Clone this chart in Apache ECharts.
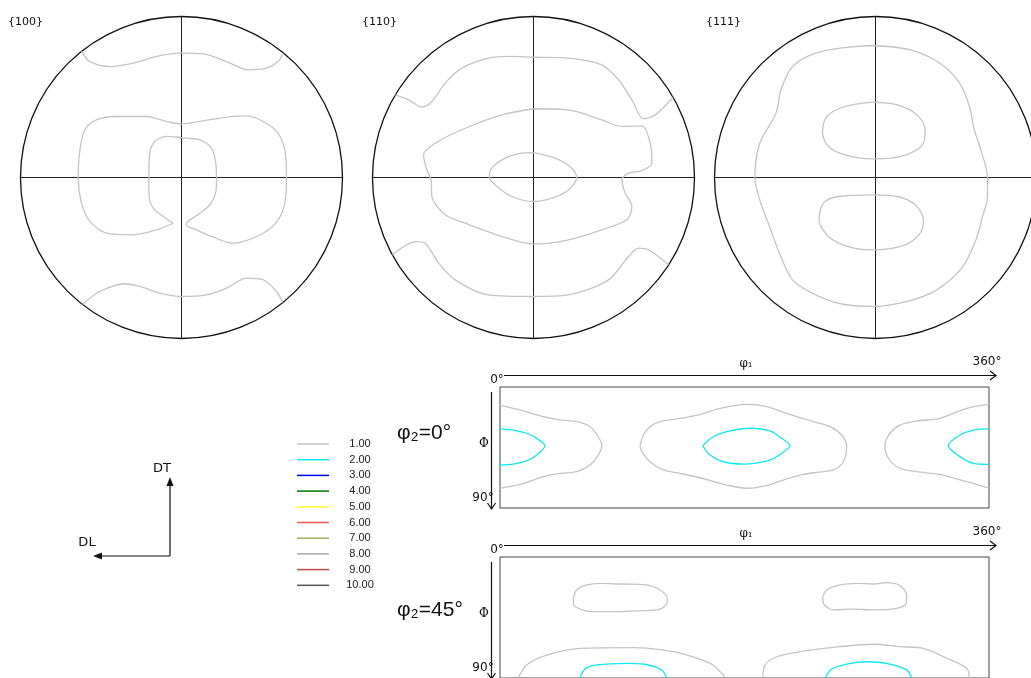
<!DOCTYPE html>
<html><head><meta charset="utf-8">
<script src="https://cdn.jsdelivr.net/npm/echarts@6/dist/echarts.min.js"></script>
<style>html,body{margin:0;padding:0;background:#fff}#c{width:1031px;height:678px}</style>
</head><body><div id="c"></div>
<script>
// ---------------- data ----------------
const poleFigureLabels = ['{100}', '{110}', '{111}'];
const levelLabels = ['1.00','2.00','3.00','4.00','5.00','6.00','7.00','8.00','9.00','10.00'];
const levelColors = ['#c4c4c4','#10e8f0','#0000e6','#007800','#ffff20','#f05858','#a8a858','#a8a8a8','#c04c4c','#555555'];
const odfSectionLabels = ['φ₂=0°', 'φ₂=45°'];
const phi1AxisName = 'φ₁';
const PhiAxisName = 'Φ';
const phi1TickLabels = ['0°', '360°'];
const PhiTickLabels = ['0°', '90°'];
const sampleAxisLabels = ['DT', 'DL'];

// pole figure contours: [x, y] in units of the projection-circle radius
const pf100_top = [[-0.621,0.783],[-0.569,0.720],[-0.445,0.689],[-0.300,0.710],[-0.155,0.752],[0,0.772],[0.135,0.768],[0.280,0.720],[0.414,0.669],[0.528,0.679],[0.600,0.720],[0.631,0.772]];
const pf100_bottom = [[-0.615,-0.788],[-0.507,-0.708],[-0.352,-0.660],[-0.259,-0.677],[-0.135,-0.718],[0,-0.739],[0.155,-0.729],[0.280,-0.687],[0.404,-0.625],[0.507,-0.635],[0.590,-0.708],[0.627,-0.776]];
const pf100_centre = [[-0.052,-0.284],[-0.155,-0.325],[-0.300,-0.356],[-0.466,-0.346],[-0.569,-0.273],[-0.621,-0.159],[-0.642,0.006],[-0.631,0.172],[-0.600,0.296],[-0.528,0.358],[-0.404,0.379],[-0.217,0.379],[-0.093,0.348],[0,0.333],[0.114,0.348],[0.280,0.375],[0.404,0.383],[0.507,0.348],[0.600,0.275],[0.648,0.130],[0.652,0],[0.642,-0.159],[0.600,-0.263],[0.507,-0.346],[0.321,-0.408],[0.197,-0.371],[0.093,-0.325],[0.027,-0.294],[0.041,-0.273],[0.114,-0.222],[0.166,-0.180],[0.201,-0.128],[0.217,-0.056],[0.217,0],[0.213,0.089],[0.186,0.182],[0.114,0.234],[0.031,0.244],[0,0.248],[-0.093,0.255],[-0.166,0.224],[-0.197,0.151],[-0.203,0],[-0.201,-0.118],[-0.176,-0.190],[-0.114,-0.242],[-0.052,-0.284]];

const pf110_top = [[-0.858,0.513],[-0.776,0.482],[-0.694,0.437],[-0.631,0.472],[-0.549,0.586],[-0.445,0.679],[-0.280,0.741],[-0.155,0.752],[0,0.747],[0.217,0.741],[0.424,0.700],[0.528,0.607],[0.611,0.482],[0.683,0.364],[0.756,0.389],[0.866,0.497]];
const pf110_bottom = [[-0.876,-0.482],[-0.735,-0.398],[-0.673,-0.408],[-0.590,-0.532],[-0.487,-0.636],[-0.280,-0.729],[0,-0.739],[0.217,-0.729],[0.466,-0.636],[0.590,-0.491],[0.652,-0.439],[0.714,-0.449],[0.839,-0.542]];
const pf110_middle = [[0,0.427],[-0.197,0.389],[-0.424,0.306],[-0.611,0.213],[-0.683,0.141],[-0.663,0.048],[-0.636,-0.014],[-0.631,-0.118],[-0.549,-0.232],[-0.424,-0.284],[-0.197,-0.366],[0,-0.414],[0.217,-0.387],[0.424,-0.325],[0.580,-0.263],[0.611,-0.180],[0.569,-0.097],[0.549,-0.014],[0.590,0.027],[0.673,0.043],[0.735,0.089],[0.725,0.213],[0.673,0.321],[0.549,0.317],[0.424,0.358],[0.217,0.420],[0,0.427]];
const pf110_core = [[0,0.155],[0.135,0.120],[0.238,0.058],[0.269,0],[0.217,-0.077],[0.114,-0.128],[0,-0.149],[-0.135,-0.118],[-0.238,-0.046],[-0.275,0],[-0.259,0.058],[-0.176,0.120],[-0.072,0.151],[0,0.155]];

const pf111_outer = [[0,0.820],[0.238,0.793],[0.424,0.710],[0.549,0.586],[0.611,0.441],[0.642,0.296],[0.683,0.172],[0.725,0],[0.725,-0.118],[0.694,-0.242],[0.652,-0.387],[0.569,-0.553],[0.404,-0.698],[0.217,-0.770],[0,-0.801],[-0.217,-0.781],[-0.383,-0.718],[-0.507,-0.636],[-0.590,-0.470],[-0.652,-0.304],[-0.714,-0.139],[-0.745,0],[-0.714,0.213],[-0.611,0.400],[-0.580,0.545],[-0.507,0.689],[-0.362,0.772],[-0.176,0.807],[0,0.820]];
const pf111_upper = [[0,0.468],[0.155,0.451],[0.280,0.389],[0.331,0.296],[0.321,0.213],[0.238,0.151],[0.114,0.120],[0,0.116],[-0.176,0.141],[-0.280,0.193],[-0.317,0.275],[-0.290,0.379],[-0.176,0.441],[0,0.468]];
const pf111_lower = [[0,-0.108],[0.155,-0.118],[0.269,-0.170],[0.321,-0.263],[0.300,-0.346],[0.207,-0.418],[0,-0.449],[-0.155,-0.429],[-0.280,-0.366],[-0.339,-0.263],[-0.311,-0.159],[-0.217,-0.118],[0,-0.108]];

// ODF sections: [phi1 (deg), Phi (deg)]
const odf0_left1 = [[0,13.4],[14.7,17.1],[31.9,22.1],[44.2,24.5],[56.5,25.8],[66.3,29.5],[72.4,37],[74.9,43.7],[72.4,50.6],[66.3,58],[56.5,63],[44.2,64.2],[31.9,66.7],[17.7,71.6],[0,75.3]];
const odf0_left2 = [[0,31.2],[9.8,32],[19.6,34.4],[27,38.2],[33.1,43.7],[27,50.6],[19.6,55],[9.8,57.3],[0,58]];
const odf0_mid1 = [[103.1,43.7],[105.5,35.7],[110.4,29.5],[117.8,25.8],[132.5,23.3],[147.2,20.5],[162,15.9],[181.6,12.9],[196.3,14.6],[211,19.6],[230.7,25.8],[243,29.5],[251.5,35.7],[255.2,43.7],[252.8,55.6],[245.4,61.7],[233.1,63.5],[220.9,65.5],[208.6,69.2],[196.3,73.4],[181.6,75.3],[166.9,72.9],[147.2,67.5],[132.5,64.2],[120.2,61.7],[110.4,55.6],[104.4,48.1],[103.1,43.7]];
const odf0_mid2 = [[149.2,43.7],[157,37],[166.9,33.2],[184,30.7],[198.8,32.7],[207.4,38.2],[213.5,43.7],[207.4,49.3],[198.8,54.3],[179.1,57.3],[164.4,55.6],[154.6,50.6],[149.2,43.7]];
const odf0_right1 = [[360,12.9],[343.6,15.9],[323.9,23.3],[306.8,25.3],[294.5,28.3],[287.1,34.4],[283.4,43.7],[285.9,53],[294.5,60.5],[306.8,63],[323.9,65],[343.6,70.4],[360,75.3]];
const odf0_right2 = [[360,31.2],[348.5,32],[338.7,35.7],[330,43.7],[338.7,51.8],[348.5,56.8],[360,57.5]];

const odf45_blobL = [[54,30.7],[56.5,24.5],[63.8,20.8],[73.6,19.6],[88.3,20.1],[108,20.8],[117.8,24.5],[123.2,30.7],[122.2,35.7],[115.4,39.4],[98.2,40.2],[83.4,40.7],[68.7,40.7],[58.9,38.7],[54,34.8],[54,30.7]];
const odf45_blobR = [[237.6,29.5],[240.5,24.5],[250.3,20.8],[262.6,19.6],[274.8,20.1],[284.7,19.1],[294.5,21.3],[299.4,28.3],[298.9,34.8],[292,38.2],[274.8,39.4],[260.1,38.7],[245.4,39.4],[238.5,35.2],[237.6,29.5]];
const odf45_arcL1 = [[13.5,90],[19.6,80.3],[34.4,72.9],[58.9,67.9],[98.2,67.4],[127.6,70.4],[147.2,76],[157,80.5],[164.4,87.8],[165.6,90]];
const odf45_arcL2 = [[58.9,90],[62.6,83.3],[71.2,80.3],[93.3,79.1],[105.5,79.6],[119,84],[122.7,90]];
const odf45_arcR1 = [[193.4,90],[195.1,80.3],[203.7,74.2],[220.9,70.4],[250.3,66.7],[274.8,64.9],[294.5,66.7],[311.6,67.9],[328.9,75.3],[343.6,82.8],[345.5,90]];
const odf45_arcR2 = [[239.3,90],[244.2,83.3],[255.2,79.6],[270,77.9],[284.7,79.1],[299.4,84],[303.1,90]];

// which panel (0-2 pole figures, 3-4 ODF sections) and level each contour belongs to
const contours = [
  [0, 0, pf100_top], [0, 0, pf100_bottom], [0, 0, pf100_centre],
  [1, 0, pf110_top], [1, 0, pf110_bottom], [1, 0, pf110_middle], [1, 0, pf110_core],
  [2, 0, pf111_outer], [2, 0, pf111_upper], [2, 0, pf111_lower],
  [3, 0, odf0_left1], [3, 1, odf0_left2], [3, 0, odf0_mid1], [3, 1, odf0_mid2], [3, 0, odf0_right1], [3, 1, odf0_right2],
  [4, 0, odf45_blobL], [4, 0, odf45_blobR], [4, 0, odf45_arcL1], [4, 1, odf45_arcL2], [4, 0, odf45_arcR1], [4, 1, odf45_arcR2]
];

// ---------------- layout ----------------
const R = 161;
const pfCentres = [[181.5, 177.5], [533.5, 177.5], [875.5, 177.5]];
const odfBox = { left: 500, width: 489, height: 121, tops: [387, 557] };

const grids = [], xAxes = [], yAxes = [], polars = [], angleAxes = [], radiusAxes = [];
pfCentres.forEach((c, i) => {
  grids.push({ left: c[0] - R, top: c[1] - R, width: 2 * R, height: 2 * R, show: false });
  xAxes.push({ gridIndex: i, type: 'value', min: -1, max: 1, show: false });
  yAxes.push({ gridIndex: i, type: 'value', min: -1, max: 1, show: false });
  polars.push({ center: c, radius: R });
  angleAxes.push({ polarIndex: i, type: 'value', min: 0, max: 360, interval: 90, startAngle: 90,
    axisLine: { lineStyle: { color: '#111', width: 1.3 } }, axisTick: { show: false }, axisLabel: { show: false },
    splitLine: { show: true, lineStyle: { color: '#222', width: 1 } } });
  radiusAxes.push({ polarIndex: i, min: 0, max: 1, show: false });
});
odfBox.tops.forEach((t, k) => {
  grids.push({ left: odfBox.left, top: t, width: odfBox.width, height: odfBox.height, show: true,
    borderColor: '#444', borderWidth: 1, backgroundColor: 'transparent' });
  xAxes.push({ gridIndex: 3 + k, type: 'value', min: 0, max: 360, show: false });
  yAxes.push({ gridIndex: 3 + k, type: 'value', min: 0, max: 90, inverse: true, show: false });
});

const series = contours.map(([panel, lvl, pts]) => ({
  type: 'line', name: levelLabels[lvl], xAxisIndex: panel, yAxisIndex: panel,
  data: pts, showSymbol: false, smooth: 0.3, silent: true, z: 3,
  lineStyle: { color: levelColors[lvl], width: 1.3 }, itemStyle: { color: levelColors[lvl] }
}));
levelLabels.forEach((name, i) => {
  if (i > 1) series.push({ type: 'line', name, xAxisIndex: 0, yAxisIndex: 0, data: [],
    lineStyle: { color: levelColors[i] }, itemStyle: { color: levelColors[i] } });
});

// ---------------- decorations ----------------
const graphic = [];
const txt = (x, y, text, size, family, align) => graphic.push({ type: 'text', x, y, silent: true,
  style: { text, fontSize: size, fontFamily: family, fill: '#111', align: align || 'center', verticalAlign: 'middle' } });
const line = (pts, w) => graphic.push({ type: 'polyline', silent: true, shape: { points: pts }, style: { stroke: '#111', lineWidth: w || 1, fill: null } });
const poly = (pts) => graphic.push({ type: 'polygon', silent: true, shape: { points: pts }, style: { fill: '#111' } });

const labelX = [8, 362, 706];
poleFigureLabels.forEach((t, i) => txt(labelX[i], 22, t, 11, 'DejaVu Sans', 'left'));

// sample-axes indicator
line([[170, 556], [170, 484]], 1.2); poly([[170, 477], [166.5, 486], [173.5, 486]]);
line([[170, 556], [100, 556]], 1.2); poly([[93, 556], [102, 552.5], [102, 559.5]]);
txt(162, 469, sampleAxisLabels[0], 13, 'DejaVu Sans');
txt(87, 543, sampleAxisLabels[1], 13, 'DejaVu Sans');

// ODF axes
odfBox.tops.forEach((t, k) => {
  const ay = t - 11.5, ax = 491.5;
  line([[504, ay], [996, ay]], 1.2);
  line([[990, ay - 4.5], [996, ay], [990, ay + 4.5]], 1.2);
  line([[ax, t + 5], [ax, t + 122]], 1.2);
  line([[ax - 4, t + 116], [ax, t + 122], [ax + 4, t + 116]], 1.2);
  txt(397, t + 46 + (k ? 7 : 0), odfSectionLabels[k], 21, 'Liberation Sans, DejaVu Sans', 'left');
  txt(746, t - 23, phi1AxisName, 12, 'DejaVu Serif');
  txt(987, t - 25, phi1TickLabels[1], 12, 'DejaVu Sans');
  txt(497, t - 7, phi1TickLabels[0], 12, 'DejaVu Sans');
  txt(484, t + 57, PhiAxisName, 12, 'DejaVu Serif');
  txt(483, t + 111, PhiTickLabels[1], 12, 'DejaVu Sans');
});

const chart = echarts.init(document.getElementById('c'), null, { renderer: 'canvas' });
chart.setOption({
  animation: false,
  backgroundColor: '#fff',
  grid: grids, xAxis: xAxes, yAxis: yAxes,
  polar: polars, angleAxis: angleAxes, radiusAxis: radiusAxes,
  legend: {
    orient: 'vertical', left: 297, top: 437, padding: 0, itemWidth: 32, itemHeight: 1.5, itemGap: 1.7,
    icon: 'rect', data: levelLabels, selectedMode: false,
    formatter: n => '{c|' + n + '}',
    textStyle: { fontSize: 11, fontFamily: 'Liberation Sans', color: '#222', lineHeight: 14,
      rich: { c: { width: 52, align: 'center', fontSize: 11, fontFamily: 'Liberation Sans', lineHeight: 14 } } }
  },
  series,
  graphic
});
</script></body></html>
